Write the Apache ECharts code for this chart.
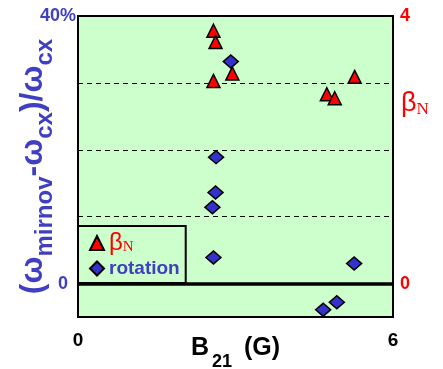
<!DOCTYPE html>
<html>
<head>
<meta charset="utf-8">
<script src="https://cdn.jsdelivr.net/npm/echarts@6/dist/echarts.min.js"></script>
<style>html,body{margin:0;padding:0;background:#fff}#c{width:443px;height:369px}</style>
</head>
<body>
<div id="c"></div>
<script>
// B21 (G) positions and values
var xBeta = [2.58, 2.62, 2.94, 2.58, 4.74, 4.89, 5.27];
var betaN = [3.78, 3.61, 3.14, 3.03, 2.83, 2.77, 3.09];
var xRot = [2.91, 2.63, 2.62, 2.56, 2.58, 5.26, 4.93, 4.67];
var rotation = [33.2, 18.9, 13.6, 11.4, 3.9, 3.0, -2.8, -3.9];
var dashedLevels = [10, 20, 30];
var xTicks = [0, 6];

var BLUE = '#3F3FBF', RED = '#FF0000', FONT = 'Liberation Sans, Arial, sans-serif';

function pairs(xs, ys) { return xs.map(function (x, i) { return [x, ys[i]]; }); }

var markData = dashedLevels.map(function (v) {
  return { yAxis: v, lineStyle: { type: [5, 4], width: 1, color: '#000' } };
});
markData.push({ yAxis: 0, lineStyle: { type: 'solid', width: 3.5, color: '#000' } });

var chart = echarts.init(document.getElementById('c'), null, { renderer: 'canvas' });
chart.setOption({
  animation: false,
  textStyle: { fontFamily: FONT },
  grid: {
    left: 78, right: 50, top: 16, bottom: 52,
    show: true, backgroundColor: '#CCFFCC', borderColor: '#000', borderWidth: 2,
    outerBoundsMode: 'none'
  },
  legend: {
    orient: 'vertical', left: 78, top: 226,
    itemWidth: 14, itemHeight: 14, itemGap: 4,
    padding: [5, 6, 5, 11],
    borderColor: '#000', borderWidth: 2, backgroundColor: '#CCFFCC',
    data: ['βN', 'rotation'],
    formatter: function (name) { return name === 'βN' ? '{b|β}{n|N}' : '{r|rotation}'; },
    textStyle: {
      rich: {
        b: { fontSize: 24, color: RED, fontFamily: FONT, lineHeight: 24 },
        n: { fontSize: 15, color: RED, fontFamily: 'Liberation Serif, serif', verticalAlign: 'bottom', lineHeight: 15 },
        r: { fontSize: 19, color: BLUE, fontWeight: 'bold', fontFamily: FONT, lineHeight: 22 }
      }
    }
  },
  xAxis: {
    type: 'value', min: 0, max: 6, interval: 6,
    axisLine: { show: false }, axisTick: { show: false }, splitLine: { show: false },
    axisLabel: { margin: 14, fontSize: 19, fontWeight: 'bold', color: '#000', fontFamily: FONT,
      formatter: function (v) { return xTicks.indexOf(v) >= 0 ? String(v) : ''; } },
    name: '{m|B}{s|21}{m|(G)}', nameLocation: 'middle', nameGap: 19, nameMoveOverlap: false,
    nameTextStyle: {
      rich: {
        m: { fontSize: 25, fontWeight: 'bold', color: '#000', fontFamily: FONT, lineHeight: 28, verticalAlign: 'top' },
        s: { fontSize: 18, fontWeight: 'bold', color: '#000', fontFamily: FONT, verticalAlign: 'bottom', lineHeight: 35, padding: [0, 12, 0, 3] }
      }
    }
  },
  yAxis: [{
    type: 'value', min: -5, max: 40, interval: 5, position: 'left',
    axisLine: { show: false }, axisTick: { show: false }, splitLine: { show: false },
    axisLabel: { margin: 2, fontFamily: FONT,
      formatter: function (v) { return v === 40 ? '{a|40%}' : (v === 0 ? '{z|0}' : ''); },
      rich: {
        a: { fontSize: 18, fontWeight: 'bold', color: BLUE, fontFamily: FONT },
        z: { fontSize: 18, fontWeight: 'bold', color: BLUE, fontFamily: FONT, padding: [0, 8, 0, 0] }
      } },
    name: '{p|(ω}{s|mirnov}{p|-ω}{s|cx}{p|)/ω}{s|cx}',
    nameLocation: 'middle', nameRotate: 90, nameGap: 21, nameMoveOverlap: false,
    nameTextStyle: {
      rich: {
        p: { fontSize: 32, fontWeight: 'bold', color: BLUE, fontFamily: FONT, lineHeight: 34, verticalAlign: 'top' },
        s: { fontSize: 24, fontWeight: 'bold', color: BLUE, fontFamily: FONT, verticalAlign: 'bottom', lineHeight: 40 }
      }
    }
  }, {
    type: 'value', min: -0.5, max: 4, interval: 0.5, position: 'right',
    axisLine: { show: false }, axisTick: { show: false }, splitLine: { show: false },
    axisLabel: { margin: 7, fontSize: 18, fontWeight: 'bold', color: RED, fontFamily: FONT,
      formatter: function (v) { return (v === 4 || v === 0) ? String(v) : ''; } },
    name: '{b|β}{n|N}', nameLocation: 'middle', nameRotate: 0, nameGap: 8, nameMoveOverlap: false,
    nameTextStyle: {
      align: 'left',
      padding: [0, 0, 126, 0],
      rich: {
        b: { fontSize: 27, color: RED, fontFamily: FONT, lineHeight: 30 },
        n: { fontSize: 17, color: RED, fontFamily: 'Liberation Serif, serif', verticalAlign: 'bottom', lineHeight: 17 }
      }
    }
  }],
  series: [{
    name: 'βN', type: 'scatter', yAxisIndex: 1,
    symbol: 'triangle', symbolSize: 13,
    itemStyle: { color: RED, borderColor: '#000', borderWidth: 1.5, opacity: 1 },
    data: pairs(xBeta, betaN), z: 3
  }, {
    name: 'rotation', type: 'scatter', yAxisIndex: 0,
    symbol: 'diamond', symbolSize: [15, 13],
    itemStyle: { color: '#3333CC', borderColor: '#000', borderWidth: 1.5, opacity: 1 },
    data: pairs(xRot, rotation), z: 3,
    markLine: { silent: true, symbol: 'none', label: { show: false }, data: markData, z: 2 }
  }]
});
</script>
</body>
</html>
